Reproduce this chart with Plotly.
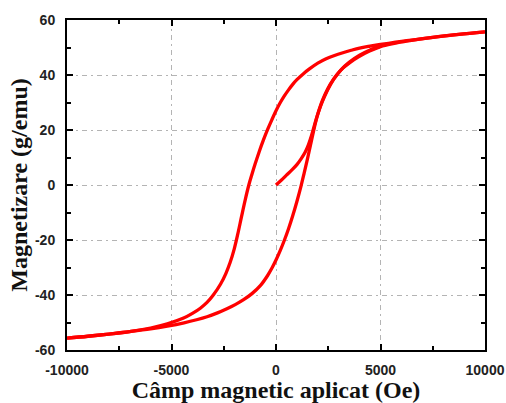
import plotly.graph_objects as go

# Descending branch (from +10000 Oe to -10000 Oe)
upper_x = [10000, 8750, 7500, 6250, 5000, 4500, 4000, 3600, 3200, 2800, 2400, 2000, 1600,
           1300, 1000, 800, 600, 400, 200, 0, -200, -400, -600, -800, -1000, -1150, -1300,
           -1470, -1650, -1830, -2000, -2200, -2400, -2650, -3000, -3300, -3620, -4000,
           -4420, -5200, -6000, -7000, -8000, -9000, -10000]
upper_y = [55.7, 54.8, 53.7, 52.5, 51.1, 50.5, 49.8, 49.0, 48.1, 47.1, 45.9, 44.3, 42.2,
           40.4, 38.3, 36.6, 34.6, 32.4, 29.9, 27.0, 23.7, 20.2, 16.4, 12.2, 7.6, 3.9, 0.0,
           -5.3, -11.5, -17.9, -23.3, -28.3, -32.2, -36.0, -40.0, -42.7, -44.8, -46.7,
           -48.4, -50.5, -52.0, -53.3, -54.2, -55.0, -55.7]

# Ascending branch (from -10000 Oe to +10000 Oe)
lower_x = [-10000, -9000, -8000, -7000, -6000, -5200, -4400, -3800, -3300, -2800, -2350,
           -1950, -1550, -1150, -750, -400, -200, 0, 200, 400, 600, 800, 1000, 1200, 1350,
           1500, 1650, 1800, 1950, 2150, 2350, 2600, 2900, 3200, 3550, 3950, 4450, 5000,
           5600, 6250, 7500, 8750, 10000]
lower_y = [-55.7, -55.0, -54.2, -53.3, -52.3, -51.3, -50.1, -49.0, -47.9, -46.5, -45.0,
           -43.5, -41.7, -39.5, -36.6, -32.9, -30.3, -27.3, -23.9, -20.1, -15.9, -11.2,
           -6.0, -0.3, 4.4, 9.3, 14.5, 19.7, 24.4, 29.3, 33.0, 36.7, 40.0, 42.5, 44.6,
           46.6, 48.6, 50.3, 51.4, 52.3, 53.7, 54.8, 55.7]

# Initial magnetization curve
init_x = [0, 250, 500, 750, 1000, 1200, 1400, 1550, 1700, 1850, 2000, 2200, 2450, 2750,
          3100, 3500, 4000, 4500, 5000]
init_y = [0.0, 1.7, 3.6, 5.4, 7.4, 9.5, 12.0, 14.6, 18.0, 22.0, 25.8, 30.0, 34.3, 38.3,
          41.8, 44.6, 47.2, 49.1, 50.5]

x_ticks = [-10000, -5000, 0, 5000, 10000]
y_ticks = [-60, -40, -20, 0, 20, 40, 60]

RED = "#ff0000"
fig = go.Figure()
for xs, ys in [(upper_x, upper_y), (lower_x, lower_y), (init_x, init_y)]:
    fig.add_trace(go.Scatter(x=xs, y=ys, mode="lines",
                             line=dict(color=RED, width=3.3, shape="spline", smoothing=1.0),
                             showlegend=False, hoverinfo="skip"))

tickfont = dict(family="Arial, Liberation Sans, sans-serif", size=14, color="#222",
                weight="bold")
titlefont = dict(family="Times New Roman, Liberation Serif, serif", size=24, color="#111",
                 weight="bold")
grid = dict(showgrid=True, gridcolor="#b4b4b4", gridwidth=1, griddash="5px,4px,2px,4px")
common = dict(showline=True, linecolor="black", linewidth=2, mirror="allticks",
              ticks="inside", ticklen=6, tickwidth=1.5, tickcolor="black",
              zeroline=False, tickfont=tickfont, automargin=False, **grid)

fig.update_xaxes(range=[-10000, 10000], tickvals=x_ticks,
                 ticktext=[str(v) for v in x_ticks],
                 minor=dict(ticks="inside", ticklen=4, dtick=2500, tickcolor="black",
                            showgrid=False),
                 title=dict(text="Câmp magnetic aplicat (Oe)", font=titlefont, standoff=2),
                 ticklabelstandoff=6, **common)
fig.update_yaxes(range=[-60, 60], tickvals=y_ticks,
                 ticktext=[str(v) for v in y_ticks],
                 minor=dict(ticks="inside", ticklen=4, dtick=10, tickcolor="black",
                            showgrid=False),
                 title=dict(text="Magnetizare (g/emu)", font=titlefont, standoff=1),
                 ticklabelstandoff=7, **common)

fig.update_layout(width=506, height=403, margin=dict(l=67, r=21, t=20, b=53),
                  plot_bgcolor="white", paper_bgcolor="white")

fig.write_html("out.html")
